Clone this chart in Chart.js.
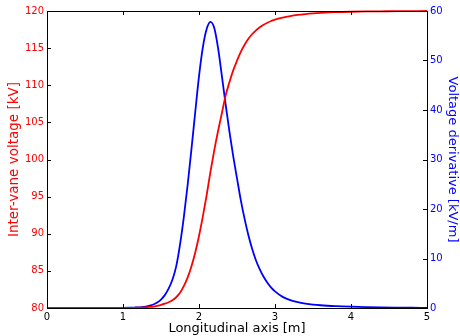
<!DOCTYPE html>
<html>
<head>
<meta charset="utf-8">
<script src="https://cdn.jsdelivr.net/npm/chart.js@4"></script>
<style>
  html, body { margin: 0; padding: 0; background: #fff; }
  #wrap { width: 460px; height: 336px; }
</style>
</head>
<body>
<div id="wrap"><canvas id="rfq"></canvas></div>
<script>
// position along the vane [m]
const positions = [0, 0.5, 1.0, 1.1, 1.15, 1.2, 1.25, 1.3, 1.35, 1.4, 1.45, 1.5, 1.55, 1.6, 1.65, 1.7, 1.75, 1.8, 1.85, 1.9, 1.95,
  2.0, 2.05, 2.1, 2.15, 2.2, 2.25, 2.3, 2.35, 2.4, 2.45, 2.5, 2.55, 2.6, 2.65, 2.7, 2.75, 2.8, 2.85, 2.9, 2.95,
  3.0, 3.1, 3.2, 3.3, 3.4, 3.5, 3.6, 3.8, 4.0, 4.2, 4.4, 4.6, 4.8, 5.0];
// inter-vane voltage [kV]
const voltage = [80, 80, 80.01, 80.02, 80.03, 80.04, 80.06, 80.09, 80.14, 80.2, 80.3, 80.42, 80.58, 80.78, 81.05, 81.45, 82.05, 82.95, 84.1, 85.6, 87.45,
  89.7, 92.3, 95.15, 98.3, 101.2, 103.8, 106.2, 108.6, 110.4, 112.0, 113.3, 114.5, 115.45, 116.25, 116.9, 117.4, 117.8, 118.15, 118.42, 118.65,
  118.85, 119.12, 119.32, 119.47, 119.58, 119.67, 119.74, 119.84, 119.9, 119.94, 119.96, 119.98, 119.99, 120];
// dV/dz [kV/m]
const derivative = [0, 0, 0.03, 0.06, 0.09, 0.12, 0.19, 0.3, 0.46, 0.7, 1.1, 1.7, 2.6, 3.9, 5.7, 8.4, 12.8, 18.3, 24.8, 32.0, 39.5,
  46.8, 52.6, 56.3, 57.8, 56.6, 52.6, 47.0, 41.2, 35.7, 30.7, 26.2, 21.8, 18.0, 14.7, 11.9, 9.6, 7.8, 6.3, 5.1, 4.1,
  3.35, 2.25, 1.6, 1.18, 0.9, 0.7, 0.56, 0.38, 0.26, 0.18, 0.12, 0.08, 0.05, 0.03];

const xTicks = [0, 1, 2, 3, 4, 5];
const leftTicks = [80, 85, 90, 95, 100, 105, 110, 115, 120];
const rightTicks = [0, 10, 20, 30, 40, 50, 60];

const RED = "#ff0000";
const BLUE = "#0000ff";
const FONT = "'DejaVu Sans', sans-serif";

function pts(ys) {
  return positions.map((x, i) => ({ x: x, y: ys[i] }));
}

// frame + inward tick marks on all four sides
const frame = {
  id: "frame",
  afterDatasetsDraw(chart) {
    const { ctx, chartArea: a, scales } = chart;
    const len = 4;
    ctx.save();
    ctx.strokeStyle = "#000";
    ctx.lineWidth = 1;
    ctx.beginPath();
    xTicks.forEach(v => {
      const px = Math.round(scales.x.getPixelForValue(v)) + 0.5;
      ctx.moveTo(px, a.bottom); ctx.lineTo(px, a.bottom - len);
      ctx.moveTo(px, a.top); ctx.lineTo(px, a.top + len);
    });
    leftTicks.forEach(v => {
      const py = Math.round(scales.y.getPixelForValue(v)) + 0.5;
      ctx.moveTo(a.left, py); ctx.lineTo(a.left + len, py);
    });
    rightTicks.forEach(v => {
      const py = Math.round(scales.y2.getPixelForValue(v)) + 0.5;
      ctx.moveTo(a.right, py); ctx.lineTo(a.right - len, py);
    });
    ctx.stroke();
    ctx.strokeRect(Math.round(a.left) + 0.5, Math.round(a.top) + 0.5,
      Math.round(a.right - a.left), Math.round(a.bottom - a.top));
    ctx.restore();
  }
};

new Chart(document.getElementById("rfq"), {
  type: "line",
  data: {
    datasets: [
      {
        label: "Inter-vane voltage",
        data: pts(voltage),
        yAxisID: "y",
        borderColor: RED,
        borderWidth: 1.8,
        pointRadius: 0,
        cubicInterpolationMode: "monotone",
        clip: 4
      },
      {
        label: "Voltage derivative",
        data: pts(derivative),
        yAxisID: "y2",
        borderColor: BLUE,
        borderWidth: 1.8,
        pointRadius: 0,
        cubicInterpolationMode: "monotone",
        clip: 4
      }
    ]
  },
  options: {
    responsive: true,
    maintainAspectRatio: false,
    animation: false,
    layout: { padding: { top: 11, left: 0, right: 0, bottom: 0 } },
    plugins: {
      legend: { display: false },
      tooltip: { enabled: false }
    },
    scales: {
      x: {
        type: "linear",
        min: 0, max: 5,
        afterBuildTicks: s => { s.ticks = xTicks.map(v => ({ value: v })); },
        afterFit: s => { s.height = 28; },
        grid: { display: false, drawTicks: false },
        border: { display: false },
        ticks: { color: "#000", font: { family: FONT, size: 10 }, padding: 3 },
        title: {
          display: true, text: "Longitudinal axis [m]", color: "#000",
          font: { family: FONT, size: 13 }, padding: { top: 0, bottom: 0 }
        }
      },
      y: {
        position: "left",
        min: 80, max: 120,
        afterBuildTicks: s => { s.ticks = leftTicks.map(v => ({ value: v })); },
        afterFit: s => { s.width = 47; },
        grid: { display: false, drawTicks: false },
        border: { display: false },
        ticks: { color: RED, font: { family: FONT, size: 10 }, padding: 3 },
        title: {
          display: true, text: "Inter-vane voltage [kV]", color: RED,
          font: { family: FONT, size: 13.5 }, padding: { top: 6, bottom: 0 }
        }
      },
      y2: {
        position: "right",
        min: 0, max: 60,
        afterBuildTicks: s => { s.ticks = rightTicks.map(v => ({ value: v })); },
        afterFit: s => { s.width = 33; },
        grid: { display: false, drawTicks: false },
        border: { display: false },
        ticks: { color: BLUE, font: { family: FONT, size: 10 }, padding: 3 },
        title: {
          display: true, text: "Voltage derivative [kV/m]", color: BLUE,
          font: { family: FONT, size: 13 }, padding: { top: 0, bottom: 0 }
        }
      }
    }
  },
  plugins: [frame]
});
</script>
</body>
</html>
